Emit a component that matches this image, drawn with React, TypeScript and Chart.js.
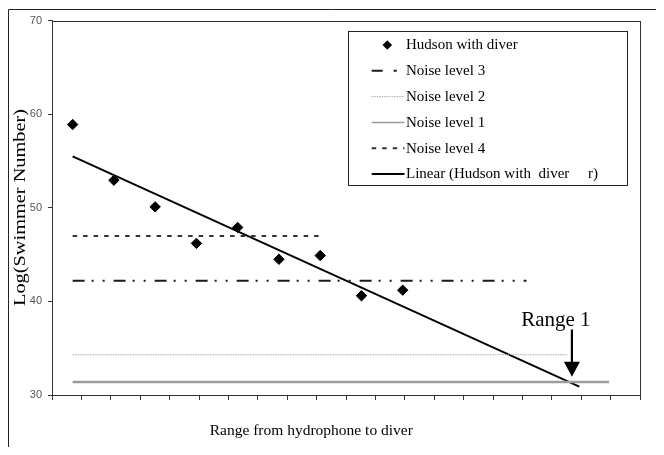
import React, { useEffect, useRef } from 'react';
import { Chart, registerables } from 'chart.js';

Chart.register(...registerables);

// ---- data ----
const hudsonX = [1, 2, 3, 4, 5, 6, 7, 8, 9];
const hudsonY = [58.9, 52.95, 50.1, 46.2, 47.9, 44.5, 44.9, 40.6, 41.2];
const noise3X = [1, 12];
const noise3Level = 42.2;
const noise2X = [1, 13];
const noise2Level = 34.3;
const noise1X = [1, 14];
const noise1Level = 31.4;
const noise4X = [1, 7];
const noise4Level = 47.0;
const trendX = [1, 13.28];
const trendY = [55.5, 30.9];
const yTicks = [30, 40, 50, 60, 70];
const xRange = [0.5, 14.75];
const xTickCount = 21;
const rangeLabel = 'Range 1';
const rangeArrowX = 13.1;
const rangeArrowY = [37.0, 31.95];
const legendLabels = [
  'Hudson with diver',
  'Noise level 3',
  'Noise level 2',
  'Noise level 1',
  'Noise level 4',
  'Linear (Hudson with  diver     r)',
];
const xTitle = 'Range from hydrophone to diver';
const yTitle = 'Log(Swimmer Number)';

const SERIF = '"Liberation Serif", "Times New Roman", serif';
const SANS = '"Liberation Sans", Arial, sans-serif';

// legend-only symbol tweaks (the legend swatches are drawn a little lighter than the series)
const legendDash: (number[] | null)[] = [null, [11, 11, 3, 20], [1.5, 1], [], [4.5, 6], []];
const legendWidth = [0, 2, 1, 1.5, 2, 2];

const decor = {
  id: 'decor',
  afterDraw(chart: any) {
    const { ctx, chartArea: ca, scales } = chart;
    const xs = scales.x;
    const ys = scales.y;
    ctx.save();
    // outer frame (left + top visible)
    ctx.strokeStyle = '#222';
    ctx.lineWidth = 1;
    ctx.beginPath();
    ctx.moveTo(0.5, chart.height);
    ctx.lineTo(0.5, 1.5);
    ctx.lineTo(chart.width, 1.5);
    ctx.stroke();
    // plot border
    ctx.strokeStyle = '#333';
    ctx.strokeRect(Math.round(ca.left) + 0.5, Math.round(ca.top) + 0.5, Math.round(ca.right - ca.left), Math.round(ca.bottom - ca.top));

    // legend box
    const lx = 340.5, ly = 23.5, lw = 279, lh = 154;
    ctx.fillStyle = '#fff';
    ctx.fillRect(lx, ly, lw, lh);
    ctx.strokeStyle = '#222';
    ctx.lineWidth = 1;
    ctx.strokeRect(lx, ly, lw, lh);
    const ds = chart.data.datasets;
    ctx.font = '15px ' + SERIF;
    ctx.textBaseline = 'middle';
    ctx.textAlign = 'left';
    for (let i = 0; i < legendLabels.length; i++) {
      const y = 37 + i * 25.8;
      const d = ds[i];
      if (i === 0) {
        const cx = 379.3, r = 4.8;
        ctx.fillStyle = '#000';
        ctx.beginPath();
        ctx.moveTo(cx, y - r);
        ctx.lineTo(cx + r, y);
        ctx.lineTo(cx, y + r);
        ctx.lineTo(cx - r, y);
        ctx.closePath();
        ctx.fill();
      } else {
        ctx.save();
        ctx.strokeStyle = d.borderColor;
        ctx.lineWidth = legendWidth[i];
        ctx.setLineDash(legendDash[i] || []);
        ctx.beginPath();
        ctx.moveTo(363.7, y);
        ctx.lineTo(396.5, y);
        ctx.stroke();
        ctx.restore();
      }
      ctx.fillStyle = '#000';
      ctx.fillText(legendLabels[i], 398, y + 0.5);
    }

    // x title
    ctx.fillStyle = '#000';
    ctx.font = '15.5px ' + SERIF;
    ctx.textAlign = 'center';
    ctx.textBaseline = 'middle';
    ctx.fillText(xTitle, 303.3, 422.8);

    // y title (stretched)
    ctx.save();
    ctx.translate(13, 199.5);
    ctx.rotate(-Math.PI / 2);
    ctx.font = '17px ' + SERIF;
    const w = ctx.measureText(yTitle).width;
    ctx.scale(197 / w, 1);
    ctx.fillText(yTitle, 0, 0);
    ctx.restore();

    // Range 1 arrow
    const ax = xs.getPixelForValue(rangeArrowX);
    const aTop = ys.getPixelForValue(rangeArrowY[0]);
    const aTip = ys.getPixelForValue(rangeArrowY[1]);
    ctx.strokeStyle = '#000';
    ctx.lineWidth = 2.2;
    ctx.beginPath();
    ctx.moveTo(ax, aTop);
    ctx.lineTo(ax, aTip - 12);
    ctx.stroke();
    ctx.fillStyle = '#000';
    ctx.beginPath();
    ctx.moveTo(ax - 8, aTip - 15);
    ctx.lineTo(ax + 8, aTip - 15);
    ctx.lineTo(ax, aTip);
    ctx.closePath();
    ctx.fill();
    ctx.font = '21px ' + SERIF;
    ctx.textAlign = 'center';
    ctx.textBaseline = 'alphabetic';
    ctx.fillText(rangeLabel, ax - 16, aTop - 3);
    ctx.restore();
  },
};

const toPts = (xsArr: number[], ysArr: number[]) => xsArr.map((x, i) => ({ x, y: ysArr[i] }));
const flat = (xsArr: number[], level: number) => xsArr.map((x) => ({ x, y: level }));

export default function App() {
  const ref = useRef<HTMLCanvasElement>(null);
  useEffect(() => {
    const canvas = ref.current!;
    const chart = new Chart(canvas, {
      type: 'scatter',
      data: {
        datasets: [
          {
            label: legendLabels[0],
            data: toPts(hudsonX, hudsonY),
            pointStyle: 'rectRot',
            pointRadius: 5.2,
            backgroundColor: '#000',
            borderColor: '#000',
            borderWidth: 1,
          },
          {
            label: legendLabels[1],
            data: flat(noise3X, noise3Level),
            showLine: true,
            pointRadius: 0,
            borderColor: '#1a1a1a',
            borderWidth: 2,
            borderDash: [12, 7, 2, 9, 2, 9],
          },
          {
            label: legendLabels[2],
            data: flat(noise2X, noise2Level),
            showLine: true,
            pointRadius: 0,
            borderColor: '#aaaaaa',
            borderWidth: 1,
            borderDash: [1.5, 1],
          },
          {
            label: legendLabels[3],
            data: flat(noise1X, noise1Level),
            showLine: true,
            pointRadius: 0,
            borderColor: '#9c9c9c',
            borderWidth: 2.5,
          },
          {
            label: legendLabels[4],
            data: flat(noise4X, noise4Level),
            showLine: true,
            pointRadius: 0,
            borderColor: '#333333',
            borderWidth: 2,
            borderDash: [4.5, 6],
          },
          {
            label: legendLabels[5],
            data: toPts(trendX, trendY),
            showLine: true,
            pointRadius: 0,
            borderColor: '#000',
            borderWidth: 2,
          },
        ],
      },
      options: {
        animation: false,
        responsive: false,
        devicePixelRatio: 1,
        layout: { padding: { top: 11, right: 16, bottom: 42, left: 0 } },
        plugins: { legend: { display: false }, tooltip: { enabled: false } },
        scales: {
          x: {
            type: 'linear',
            min: xRange[0],
            max: xRange[1],
            afterBuildTicks: (s: any) => {
              const step = (xRange[1] - xRange[0]) / (xTickCount - 1);
              s.ticks = Array.from({ length: xTickCount }, (_, i) => ({ value: xRange[0] + i * step }));
            },
            afterFit: (s: any) => {
              s.height = 10;
            },
            ticks: { display: false, autoSkip: false },
            grid: { drawOnChartArea: false, color: '#333', tickLength: 5 },
            border: { color: '#333' },
          },
          y: {
            type: 'linear',
            min: yTicks[0],
            max: yTicks[yTicks.length - 1],
            afterBuildTicks: (s: any) => {
              s.ticks = yTicks.map((v) => ({ value: v }));
            },
            afterFit: (s: any) => {
              s.width = 44;
            },
            ticks: { font: { family: SANS, size: 11 }, color: '#555', padding: 6 },
            grid: { drawOnChartArea: false, color: '#333', tickLength: 4 },
            border: { color: '#333' },
          },
        },
      },
      plugins: [decor],
    } as any);
    return () => chart.destroy();
  }, []);
  return <canvas ref={ref} width={648} height={439} style={{ display: 'block' }} />;
}
